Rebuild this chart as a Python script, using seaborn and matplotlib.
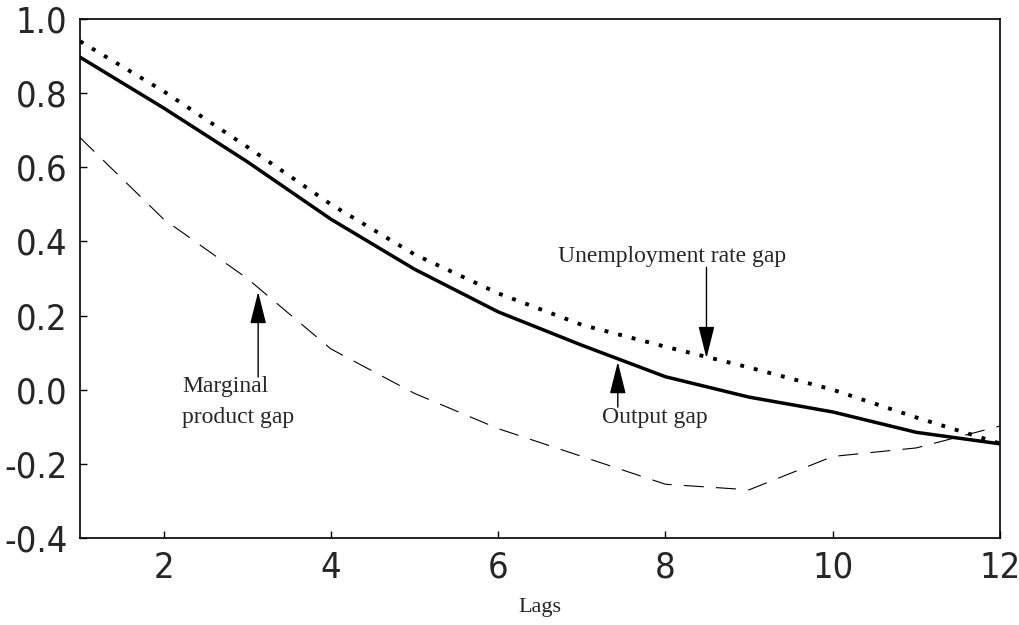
import matplotlib
matplotlib.use("Agg")
import matplotlib.pyplot as plt
import seaborn as sns
import pandas as pd

# values
lags = [1, 2, 3, 4, 5, 6, 7, 8, 9, 10, 11, 12]
output_gap = [0.897, 0.76, 0.615, 0.46, 0.325, 0.21, 0.12, 0.035, -0.02, -0.06, -0.115, -0.146]
unemployment_gap = [0.94, 0.805, 0.655, 0.5, 0.365, 0.26, 0.175, 0.116, 0.06, 0.0, -0.075, -0.145]
marginal_gap = [0.68, 0.46, 0.3, 0.11, -0.01, -0.105, -0.18, -0.255, -0.27, -0.18, -0.157, -0.098]
xticks = [2, 4, 6, 8, 10, 12]
yticks = [-0.4, -0.2, 0.0, 0.2, 0.4, 0.6, 0.8, 1.0]

sns.set_style("white")
plt.rcParams['font.family'] = ['Liberation Serif', 'DejaVu Serif']
tick_font = ['DejaVu Sans']

df = pd.DataFrame({"lag": lags, "output": output_gap,
                   "unemp": unemployment_gap, "marginal": marginal_gap})

fig = plt.figure(figsize=(10.19, 6.25), dpi=100)
ax = fig.add_axes([0.0785, 0.1392, 0.9029, 0.8304])

sns.lineplot(x="lag", y="unemp", data=df, ax=ax, color="black", lw=2.8,
             linestyle=(0, (1, 2.6)))
sns.lineplot(x="lag", y="output", data=df, ax=ax, color="black", lw=2.5)
sns.lineplot(x="lag", y="marginal", data=df, ax=ax, color="black", lw=0.8,
             linestyle=(0, (18, 11)))

ax.set_xlim(1, 12)
ax.set_ylim(-0.4, 1.0)
ax.set_xticks(xticks)
ax.set_xticklabels([str(t) for t in xticks])
ax.set_yticks(yticks)
ax.set_yticklabels(["%.1f" % t for t in yticks])
for lab in ax.get_xticklabels() + ax.get_yticklabels():
    lab.set_family(tick_font)
    lab.set_stretch("condensed")
    lab.set_fontsize(26)
ax.tick_params(direction="in", length=5, width=1, color="black", pad=9,
               left=True, bottom=True, top=False, right=False)
for sp in ax.spines.values():
    sp.set_color("black")
    sp.set_linewidth(1.2)

ax.set_xlabel("Lags", fontsize=16, labelpad=10)
ax.set_ylabel("")

arrow = dict(arrowstyle="-|>,head_length=1.0,head_width=0.25", color="black",
             lw=1, mutation_scale=20, shrinkA=0, shrinkB=0)
ax.annotate("", xy=(8.49, 0.085), xytext=(8.49, 0.33), arrowprops=arrow)
ax.text(8.08, 0.344, "Unemployment rate gap", fontsize=17, ha="center", va="baseline")

ax.annotate("", xy=(7.43, 0.075), xytext=(7.43, -0.047), arrowprops=arrow)
ax.text(7.87, -0.09, "Output gap", fontsize=17, ha="center", va="baseline")

ax.annotate("", xy=(3.13, 0.264), xytext=(3.13, 0.034), arrowprops=arrow)
ax.text(2.22, -0.006, "Marginal", fontsize=17, ha="left", va="baseline")
ax.text(2.22, -0.09, "product gap", fontsize=17, ha="left", va="baseline")

fig.savefig("out.png", dpi=100)
